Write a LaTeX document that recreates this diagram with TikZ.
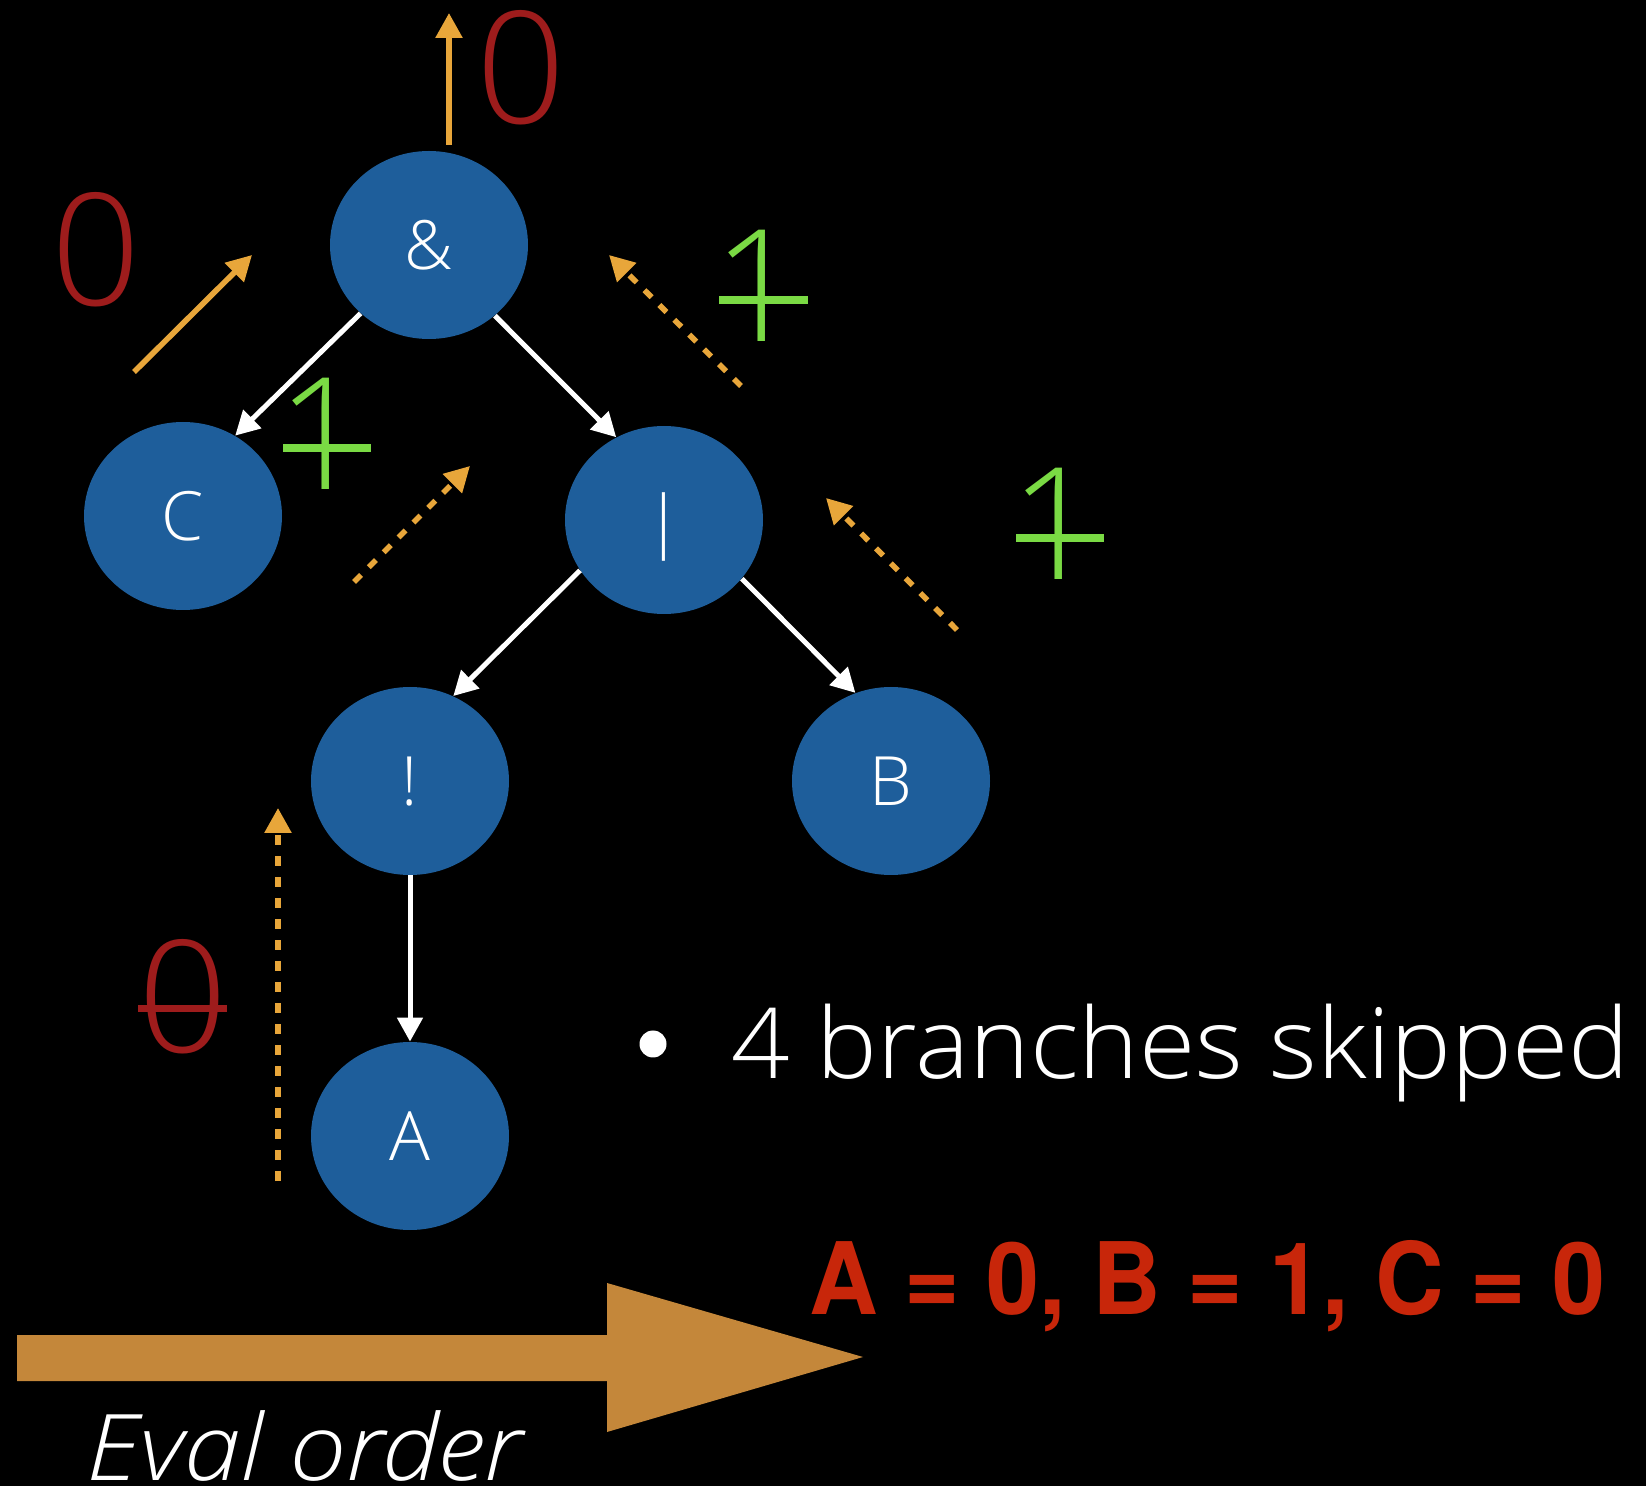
\documentclass[tikz,border=0pt]{standalone}
\usepackage{fontspec}
\usepackage{graphicx}
\usetikzlibrary{shapes.geometric,arrows.meta}
\newfontfamily\lightf{Open Sans Light}[ItalicFont=Open Sans Light Italic]
\newfontfamily\heros{TeX Gyre Heros}
\definecolor{nodeblue}{RGB}{30,94,155}
\definecolor{redd}{RGB}{158,28,28}
\definecolor{grn}{RGB}{122,218,68}
\definecolor{orng}{RGB}{232,166,58}
\definecolor{bigarr}{RGB}{196,135,58}
\definecolor{redtxt}{RGB}{200,38,10}
\tikzset{
  tnode/.style={ellipse, fill=nodeblue, minimum width=99pt, minimum height=94pt, inner sep=0pt,
    text=white, font=\lightf\fontsize{34pt}{34pt}\selectfont, text height=24.5pt, text depth=0pt},
  warrow/.style={draw=white, line width=2.5pt, -{Triangle[length=12pt,width=12.5pt]}},
  oarrow/.style={draw=orng, line width=2.8pt, -{Triangle[length=12.5pt,width=13pt]}},
  odash/.style={oarrow, dash pattern=on 5pt off 5.5pt},
  bigdigit/.style={inner sep=0pt, anchor=base, font=\lightf\fontsize{78pt}{78pt}\selectfont},
  greendigit/.style={bigdigit, text=grn},
  reddigit/.style={bigdigit, text=redd},
  gstrike/.style={draw=grn, line width=4pt},
  rstrike/.style={draw=redd, line width=3.5pt}
}
\begin{document}
\begin{tikzpicture}[x=0.5pt,y=-0.5pt]
\fill[black] (0,0) rectangle (1646,1486);
\useasboundingbox (0,0) rectangle (1646,1486);

% tree nodes
\node[tnode] (and) at (429,245) {\&};
\node[tnode] (c) at (183,516) {C};
\node[tnode] (or) at (664,520) {|};
\node[tnode] (not) at (410,781) {!};
\node[tnode] (b) at (891,781) {B};
\node[tnode] (a) at (410,1136) {A};

% white edges
\draw[warrow] (and.-135) -- (c.57);
\draw[warrow] (and.-47) -- (or.120);
\draw[warrow] (or.-149) -- (not.63);
\draw[warrow] (or.-37) -- (b.112);
\draw[warrow] (not.south) -- (a.north);

% orange evaluation arrows
\coordinate (t0) at (449,145); \coordinate (t1) at (449,13);
\coordinate (l0) at (134,372); \coordinate (l1) at (252,255);
\coordinate (r0) at (741,386); \coordinate (r1) at (609,255);
\coordinate (m0) at (354,582); \coordinate (m1) at (470,466);
\coordinate (s0) at (957,630); \coordinate (s1) at (826,498);
\coordinate (v0) at (278,1181); \coordinate (v1) at (278,808);
\draw[oarrow] (t0) -- (t1);
\draw[oarrow] (l0) -- (l1);
\draw[odash] (r0) -- (r1);
\draw[odash] (m0) -- (m1);
\draw[odash] (s0) -- (s1);
\draw[odash] (v0) -- (v1);

% values
\node[reddigit] (z1) at (521,124) {0};
\node[reddigit] (z2) at (96,306) {0};
\node[reddigit] (z3) at (183,1053) {0};
\draw[rstrike] (138,1009) -- (227,1009);

\node[greendigit] (o1) at (758,342) {1};
\draw[gstrike] (719,300) -- (808,300);
\node[greendigit] (o2) at (322,490) {1};
\draw[gstrike] (283,448) -- (371,448);
\node[greendigit] (o3) at (1055,580) {1};
\draw[gstrike] (1016,538) -- (1104,538);

% bullet text
\node[circle, fill=white, minimum size=13.5pt, inner sep=0pt] (bul) at (653,1044) {};
\node[anchor=base west, inner sep=0pt, text=white] (skip) at (731,1079)
  {\resizebox{449pt}{\height}{\lightf\fontsize{49pt}{49pt}\selectfont 4 branches skipped}};

\node[anchor=base west, inner sep=0pt, text=redtxt] (res) at (809,1314)
  {\resizebox{398pt}{\height}{\heros\bfseries\fontsize{50pt}{50pt}\selectfont A = 0, B = 1, C = 0}};

% eval order arrow
\fill[bigarr] (17,1335) -- (607,1335) -- (607,1283) -- (863,1357) -- (607,1432) -- (607,1381) -- (17,1381) -- cycle;
\node[anchor=base west, inner sep=0pt, text=white] (eval) at (86,1480)
  {\resizebox{218pt}{\height}{\lightf\itshape\fontsize{46pt}{46pt}\selectfont Eval order}};
\end{tikzpicture}
\end{document}
